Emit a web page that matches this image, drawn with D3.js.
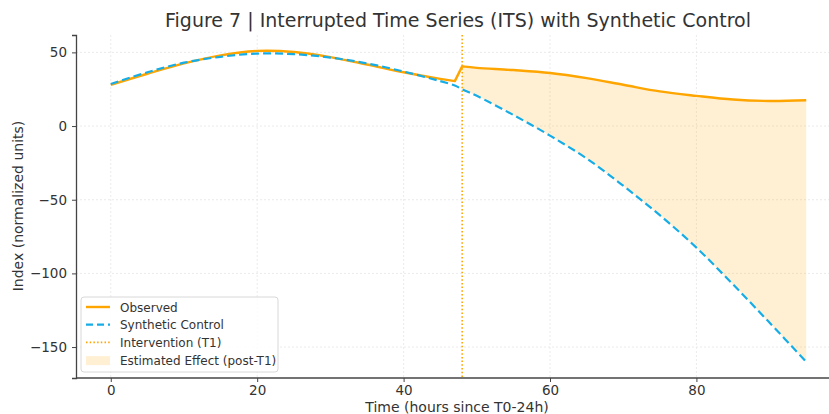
<!DOCTYPE html>
<html>
<head>
<meta charset="utf-8">
<script src="https://cdn.jsdelivr.net/npm/d3@7"></script>
<style>
  body { margin: 0; background: #fff; }
  svg { font-family: "DejaVu Sans", sans-serif; }
</style>
</head>
<body>
<svg id="chart" width="829" height="414"></svg>
<script>
// data
const hours = [0, 5, 10, 15, 20, 25, 30, 35, 40, 45, 47, 48, 50, 55, 60, 65, 70, 75, 80, 85, 90, 95];
const observed = [28, 35.5, 42.5, 48, 51, 50.3, 46.8, 41.8, 36.5, 32, 30.5, 40.5, 39.5, 38, 36, 32.5, 28, 23.5, 20.5, 18, 17, 17.5];
const synthetic = [28.5, 36.5, 43, 47, 49.2, 48.8, 46.5, 42.5, 37, 30.5, 27.5, 25, 20.5, 7.5, -6.5, -22, -40.5, -60.5, -82.5, -107.5, -133.5, -160];
const interventionHour = 48;
const xTicks = [0, 20, 40, 60, 80];
const yTicks = [50, 0, -50, -100, -150];
const legendLabels = ["Observed", "Synthetic Control", "Intervention (T1)", "Estimated Effect (post-T1)"];

const orange = "#ffa500";
const blue = "#16ade6";

const svg = d3.select("#chart");
const margin = { left: 76, top: 35 };
const width = 829;

const x = d3.scaleLinear().domain([-4.75, 99.75]).range([margin.left, 841]);
const y = d3.scaleLinear().domain([-171, 61.8]).range([378, margin.top]);
const curve = d3.curveCatmullRom.alpha(0.5);

const rows = hours.map((h, i) => ({ h: h, obs: observed[i], syn: synthetic[i] }));

// grid
const grid = svg.append("g").attr("stroke", "#e6e6e6").attr("stroke-width", 0.8).attr("stroke-dasharray", "2,2");
xTicks.forEach(t => {
  grid.append("line").attr("x1", x(t)).attr("x2", x(t)).attr("y1", margin.top).attr("y2", 378);
});
yTicks.forEach(t => {
  grid.append("line").attr("x1", margin.left).attr("x2", width).attr("y1", y(t)).attr("y2", y(t));
});

// effect area post intervention
const post = rows.filter(d => d.h >= interventionHour);
svg.append("path")
  .datum(post)
  .attr("fill", orange)
  .attr("fill-opacity", 0.17)
  .attr("d", d3.area().curve(curve)
    .x(d => x(d.h)).y0(d => y(d.syn)).y1(d => y(d.obs)));

// intervention line
svg.append("line")
  .attr("x1", x(interventionHour)).attr("x2", x(interventionHour))
  .attr("y1", margin.top).attr("y2", 378)
  .attr("stroke", orange).attr("stroke-width", 1.6).attr("stroke-dasharray", "1.5,2.2");

// observed, with the jump at the intervention
const pre = rows.filter(d => d.h <= 47);
const lineObs = d3.line().curve(curve).x(d => x(d.h)).y(d => y(d.obs));
svg.append("path")
  .attr("fill", "none").attr("stroke", orange).attr("stroke-width", 2.4)
  .attr("stroke-linejoin", "round")
  .attr("d", lineObs(pre) + "L" + lineObs(post).slice(1));

// synthetic control
svg.append("path")
  .datum(rows)
  .attr("fill", "none").attr("stroke", blue).attr("stroke-width", 2.2)
  .attr("stroke-dasharray", "8,4")
  .attr("d", d3.line().curve(curve).x(d => x(d.h)).y(d => y(d.syn)));

// axes
const xAxis = svg.append("g").attr("transform", "translate(0,378)")
  .call(d3.axisBottom(x).tickValues(xTicks).tickSize(4).tickPadding(3));
const yAxis = svg.append("g").attr("transform", `translate(${margin.left},0)`)
  .call(d3.axisLeft(y).tickValues(yTicks).tickSize(4).tickPadding(5));
[xAxis, yAxis].forEach(a => {
  a.select(".domain").attr("stroke", "#444").attr("stroke-width", 1.3);
  a.selectAll(".tick line").attr("stroke", "#444");
  a.selectAll(".tick text").attr("fill", "#333").style("font-size", "13.5px")
    .style("font-family", "DejaVu Sans, sans-serif");
});
xAxis.select(".domain").attr("d", `M${margin.left},0H${width}`);

// titles
svg.append("text").attr("x", 458).attr("y", 27).attr("text-anchor", "middle")
  .attr("fill", "#333").style("font-size", "19px")
  .text("Figure 7 | Interrupted Time Series (ITS) with Synthetic Control");
svg.append("text").attr("x", 457).attr("y", 411.5).attr("text-anchor", "middle")
  .attr("fill", "#333").style("font-size", "14px")
  .text("Time (hours since T0-24h)");
svg.append("text").attr("transform", "translate(23,206) rotate(-90)").attr("text-anchor", "middle")
  .attr("fill", "#333").style("font-size", "14px")
  .text("Index (normalized units)");

// legend
const lg = svg.append("g").attr("transform", "translate(81,297)");
lg.append("rect").attr("width", 197).attr("height", 75).attr("rx", 3)
  .attr("fill", "#fff").attr("fill-opacity", 0.85).attr("stroke", "#d8d8d8");
legendLabels.forEach((label, i) => {
  const ry = 10 + i * 17.7;
  if (i === 3) {
    lg.append("rect").attr("x", 5).attr("y", ry - 4).attr("width", 24).attr("height", 9)
      .attr("fill", orange).attr("fill-opacity", 0.17);
  } else {
    const styles = [
      { c: orange, w: 2.4, d: null },
      { c: blue, w: 2.2, d: "7,4" },
      { c: orange, w: 1.6, d: "1.5,2.2" }
    ][i];
    lg.append("line").attr("x1", 5).attr("x2", 29).attr("y1", ry).attr("y2", ry)
      .attr("stroke", styles.c).attr("stroke-width", styles.w).attr("stroke-dasharray", styles.d);
  }
  lg.append("text").attr("x", 39).attr("y", ry + 4.5).attr("fill", "#333")
    .style("font-size", "12px").text(label);
});
</script>
</body>
</html>
